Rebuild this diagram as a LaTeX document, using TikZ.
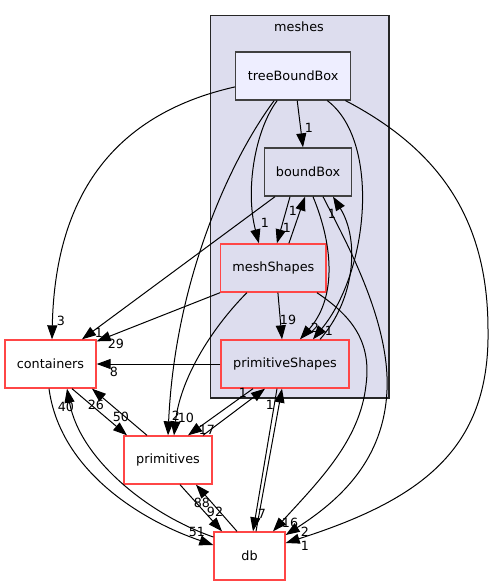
\documentclass[tikz,border=0pt]{standalone}
\usepackage{fontspec}
\setmainfont{DejaVu Sans}
\usetikzlibrary{arrows.meta,calc}
\definecolor{clusterbg}{HTML}{DDDDEE}
\definecolor{mainbg}{HTML}{EEEEFF}
\definecolor{nodeborder}{HTML}{404040}
\definecolor{redborder}{RGB}{255,70,70}
\tikzset{
  dirbox/.style={draw=nodeborder, line width=1pt, rectangle, inner sep=0pt, minimum height={48*0.75pt}, font=\fontsize{9.6}{11}\selectfont},
  redbox/.style={draw=redborder, line width=1pt, rectangle, inner sep=0pt, minimum height={48*0.75pt}, font=\fontsize{9.6}{11}\selectfont},
  dep/.style={draw=black, line width=0.75pt, -{Triangle[length=10.5pt,width=7.5pt]}},
  lbl/.style={inner sep=0pt, font=\fontsize{9.5}{10}\selectfont},
}
\begin{document}
\begin{tikzpicture}[x=0.75pt,y=-0.75pt]
\useasboundingbox (0,0) rectangle (493,585);
% cluster
\draw[fill=clusterbg, draw=black!85, line width=0.8pt] (210.5,15.3) rectangle (389,398);
\node[inner sep=0pt, font=\fontsize{9.6}{11}\selectfont] (meshlbl) at (299,27) {meshes};
% nodes
\node[dirbox, fill=mainbg, minimum width={115*0.75pt}] (tbb) at (293.2,75.9) {treeBoundBox};
\node[dirbox, fill=clusterbg, minimum width={87.5*0.75pt}] (bb) at (308,172) {boundBox};
\node[redbox, fill=clusterbg, minimum width={105.3*0.75pt}] (ms) at (273.4,268) {meshShapes};
\node[redbox, fill=clusterbg, minimum width={128*0.75pt}] (ps) at (285,364) {primitiveShapes};
\node[redbox, fill=white, minimum width={91*0.75pt}] (cont) at (50.5,364) {containers};
\node[redbox, fill=white, minimum width={88*0.75pt}] (prims) at (168,460) {primitives};
\node[redbox, fill=white, minimum width={71*0.75pt}] (db) at (249.5,556) {db};
% edges
\draw[dep] ($(tbb.west)+(0,11)$) .. controls (110,115) and (55,200) .. ($(cont.north)+(1.5,0)$);
\draw[dep] ($(tbb.south)+(4,0)$) -- ($(bb.north)+(-5,0)$);
\draw[dep] ($(tbb.south)+(-16,0)$) .. controls (255,130) and (245,190) .. ($(ms.north)+(-14.5,0)$);
\draw[dep] ($(tbb.south)+(-19,0)$) .. controls (230,160) and (175,280) .. ($(prims.north)+(0,0)$);
\draw[dep] ($(tbb.south)+(34,0)$) .. controls (380,140) and (370,270) .. ($(ps.north)+(28,0)$);
\draw[dep] ($(tbb.south east)+(-6,0)$) .. controls (440,150) and (488,220) .. (488,330) .. controls (490,450) and (420,500) .. ($(db.east)+(0,-13)$);
\draw[dep] ($(bb.south)+(-18,0)$) -- ($(ms.north)+(3.5,0)$);
\draw[dep] ($(ms.north)+(15.5,0)$) -- ($(bb.south)+(-3,0)$);
\draw[dep] ($(bb.south)+(-33,0)$) -- ($(cont.north)+(31.5,0)$);
\draw[dep] ($(bb.south)+(5,0)$) .. controls (335,250) and (335,300) .. ($(ps.north)+(15,0)$);
\draw[dep] ($(ps.north)+(35,0)$) .. controls (355,300) and (360,240) .. ($(bb.south)+(25,0)$);
\draw[dep] ($(bb.south)+(15,0)$) .. controls (345,240) and (390,320) .. (387,390) .. controls (384,460) and (340,500) .. ($(db.east)+(0,-21)$);
\draw[dep] ($(ms.south)+(43.5,0)$) .. controls (350,315) and (372,340) .. (366,385) .. controls (360,440) and (320,480) .. ($(db.north)+(23.5,0)$);
\draw[dep] (ms.south west) -- ($(cont.north east)+(0,2)$);
\draw[dep] ($(ms.south)+(-26.5,0)$) .. controls (210,330) and (180,380) .. ($(prims.north)+(6,0)$);
\draw[dep] ($(ms.south)+(4.5,0)$) -- ($(ps.north)+(-3,0)$);
\draw[dep] (ps.west) -- (cont.east);
\draw[dep] ($(ps.south)+(-32,0)$) -- ($(prims.north)+(20,0)$);
\draw[dep] ($(prims.north)+(35,0)$) -- ($(ps.south)+(-20,0)$);
\draw[dep] ($(prims.north)+(-21,0)$) -- ($(cont.south)+(41.5,0)$);
\draw[dep] ($(cont.south)+(21.5,0)$) -- ($(prims.north)+(-41,0)$);
\draw[dep] ($(cont.south)+(-1.5,0)$) .. controls (60,470) and (140,520) .. ($(db.west)+(0,-11)$);
\draw[dep] ($(db.west)+(0,-19)$) .. controls (150,515) and (80,460) .. ($(cont.south)+(16.5,0)$);
\draw[dep] ($(prims.south)+(12,0)$) -- ($(db.north)+(-27.5,0)$);
\draw[dep] ($(db.north)+(-12.5,0)$) -- ($(prims.south)+(28,0)$);
\draw[dep] ($(ps.south)+(-8,0)$) -- ($(db.north)+(3.5,0)$);
\draw[dep] ($(db.north)+(6.5,0)$) -- ($(ps.south)+(-3,0)$);
% labels
\node[lbl] (l1) at (61,321) {3};
\node[lbl] (l2) at (309,128) {1};
\node[lbl] (l3) at (265,223) {1};
\node[lbl] (l4) at (176,416) {2};
\node[lbl] (l5) at (329,331) {1};
\node[lbl] (l6) at (305,546) {1};
\node[lbl] (l7) at (287,228) {1};
\node[lbl] (l8) at (293,211) {1};
\node[lbl] (l9) at (99,333) {1};
\node[lbl] (l10) at (315,328) {2};
\node[lbl] (l11) at (332,214) {1};
\node[lbl] (l12) at (305,532) {2};
\node[lbl] (l13) at (290,523) {16};
\node[lbl] (l14) at (116,344) {29};
\node[lbl] (l15) at (186,418) {10};
\node[lbl] (l16) at (288,320) {19};
\node[lbl] (l17) at (114,372) {8};
\node[lbl] (l18) at (207,430) {17};
\node[lbl] (l19) at (243,393) {1};
\node[lbl] (l20) at (96,405) {26};
\node[lbl] (l21) at (121,417) {50};
\node[lbl] (l22) at (197,532) {51};
\node[lbl] (l23) at (66,407) {40};
\node[lbl] (l24) at (202,503) {88};
\node[lbl] (l25) at (215,512) {92};
\node[lbl] (l26) at (262,514) {7};
\node[lbl] (l27) at (270,405) {1};
\end{tikzpicture}
\end{document}
